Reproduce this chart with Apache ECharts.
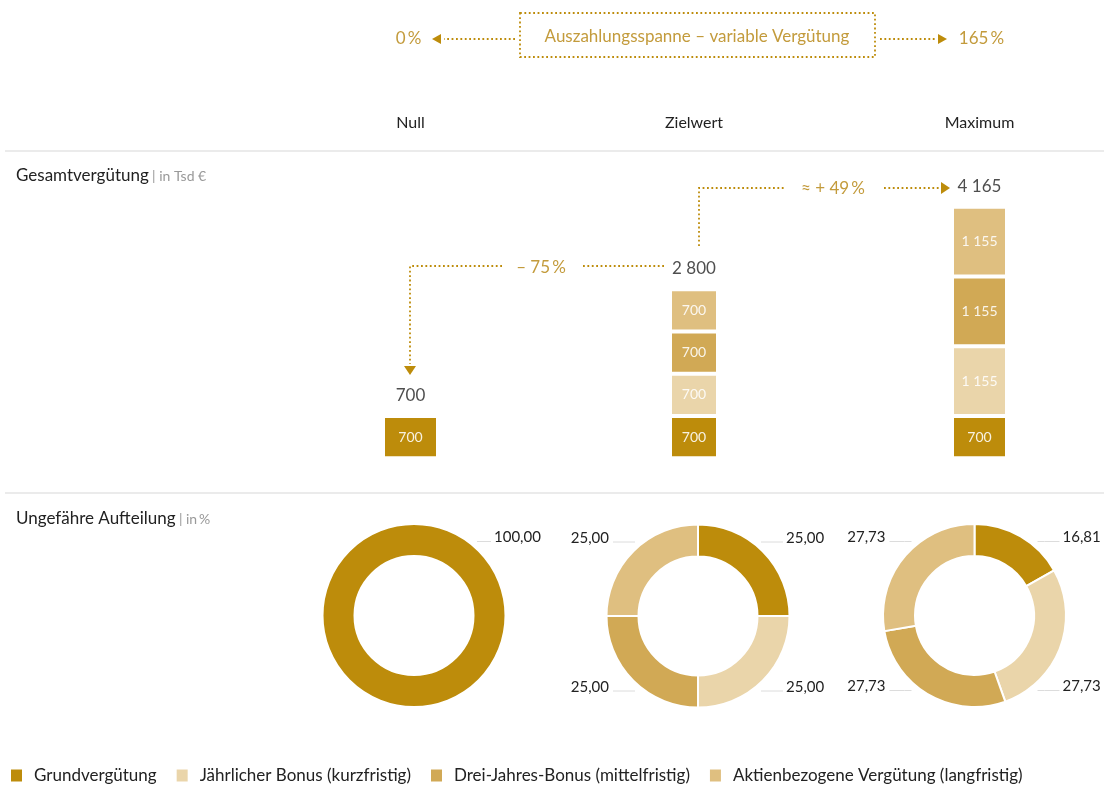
<!DOCTYPE html>
<html lang="de">
<head>
<meta charset="utf-8">
<title>Vergütung – Auszahlungsspanne</title>
<script src="https://cdn.jsdelivr.net/npm/echarts@6/dist/echarts.min.js"></script>
<style>
  html, body { margin: 0; padding: 0; background: #fff; }
  #chart { width: 1104px; height: 785px; }
</style>
</head>
<body>
<div id="chart"></div>
<script>
// ---- data ----
const columns = ['Null', 'Zielwert', 'Maximum'];
const components = [
  'Grundvergütung',
  'Jährlicher Bonus (kurzfristig)',
  'Drei-Jahres-Bonus (mittelfristig)',
  'Aktienbezogene Vergütung (langfristig)'
];
// in Tsd €, one value per column
const grundverguetung = [700, 700, 700];
const jahresBonus = [0, 700, 1155];
const dreiJahresBonus = [0, 700, 1155];
const aktienVerguetung = [0, 700, 1155];
const totals = [700, 2800, 4165];
// approximate split in %, one list per column
const shareNull = [100.00];
const shareZiel = [25.00, 25.00, 25.00, 25.00];
const shareMax = [16.81, 27.73, 27.73, 27.73];
// texts
const payoutRange = ['0\u2009%', '165\u2009%'];
const payoutTitle = 'Auszahlungsspanne – variable Vergütung';
const changeDown = '– 75\u2009%';
const changeUp = '≈ + 49\u2009%';

// ---- styling ----
const FONT = 'Lato, "Liberation Sans", sans-serif';
const COLORS = ['#BD8C0B', '#EAD5AA', '#D1A955', '#DFBF80'];
const GOLD = '#BD8C0B';
const GOLD_TEXT = '#C39B3C';
const INK = '#222222';

const componentValues = [grundverguetung, jahresBonus, dreiJahresBonus, aktienVerguetung];
const shares = [shareNull, shareZiel, shareMax];

// column layout: bar centre x, bar width
const colCenters = [410.5, 694, 979.5];
const colWidths = [55, 48, 55];
const barTop = 206.7, barHeight = 251.6;
const pieCenters = [[414, 615.5], [698, 616], [974.5, 615.5]];

function fmtTsd(v) {
  return String(v).replace(/\B(?=(\d{3})+(?!\d))/g, ' ');
}
function fmtPct(v) {
  return v.toFixed(2).replace('.', ',');
}

const grids = [], xAxes = [], yAxes = [], series = [];
const yMax = Math.max.apply(null, totals);

columns.forEach(function (col, c) {
  grids.push({
    left: colCenters[c] - colWidths[c] / 2,
    width: colWidths[c],
    top: barTop,
    height: barHeight
  });
  xAxes.push({
    type: 'category', gridIndex: c, data: [col], position: 'top',
    axisLine: { show: false }, axisTick: { show: false },
    axisLabel: { margin: 76, fontSize: 16, color: INK, fontFamily: FONT }
  });
  yAxes.push({
    type: 'value', gridIndex: c, min: 0, max: yMax, show: false,
    splitLine: { show: false }
  });
  components.forEach(function (name, k) {
    const v = componentValues[k][c];
    series.push({
      type: 'bar', name: name, xAxisIndex: c, yAxisIndex: c,
      stack: 'col' + c, barWidth: '100%',
      data: [v > 0 ? v : '-'],
      itemStyle: { color: COLORS[k], borderColor: '#fff', borderWidth: 2 },
      label: {
        show: true, position: 'inside', formatter: function (p) { return fmtTsd(p.value); },
        color: 'rgba(255,255,255,0.88)', fontSize: 14, fontFamily: FONT
      },
      emphasis: { disabled: true },
      silent: true
    });
  });
  series.push({
    type: 'scatter', xAxisIndex: c, yAxisIndex: c,
    data: [totals[c]], symbolSize: 0, silent: true,
    label: {
      show: true, position: 'top', distance: 12,
      formatter: function (p) { return fmtTsd(p.value); },
      color: INK, fontSize: 17, fontFamily: FONT
    }
  });
});

const CORNERS = ['tr', 'br', 'bl', 'tl'];
function pieLabelLayout(center, gap) {
  return function (p) {
    const corner = CORNERS[p.dataIndex];
    const top = corner[0] === 't';
    const right = corner[1] === 'r';
    const y = center[1] + (top ? -78 : 71);
    const ly = y + 4;
    if (right) {
      return {
        x: center[0] + gap, y: y, align: 'left', verticalAlign: 'middle',
        labelLinePoints: [[center[0] + 63, ly], [center[0] + 70, ly], [center[0] + gap - 3, ly]]
      };
    }
    return {
      x: center[0] - 89, y: y, align: 'right', verticalAlign: 'middle',
      labelLinePoints: [[center[0] - 63, ly], [center[0] - 70, ly], [center[0] - 85, ly]]
    };
  };
}

shares.forEach(function (list, c) {
  series.push({
    type: 'pie',
    center: pieCenters[c],
    radius: [59.5, 91.5],
    startAngle: 90, clockwise: true,
    avoidLabelOverlap: false,
    silent: true,
    itemStyle: { borderColor: '#fff', borderWidth: 2 },
    label: {
      show: true, position: 'outside', width: 60, overflow: 'none',
      formatter: function (p) { return fmtPct(p.value); },
      color: INK, fontSize: 15, fontFamily: FONT
    },
    labelLine: { show: true, lineStyle: { color: '#dcdcdc', width: 1 } },
    labelLayout: pieLabelLayout(pieCenters[c], list.length === 1 ? 80 : 88),
    emphasis: { disabled: true },
    data: list.map(function (v, k) {
      return { name: components[k], value: v, itemStyle: { color: COLORS[k] } };
    })
  });
});

// ---- annotations ----
const dotted = { stroke: GOLD, lineWidth: 1.8, lineDash: [1.8, 2.6], fill: null };
function line(points) {
  return { type: 'polyline', shape: { points: points }, style: dotted, silent: true };
}
function tri(points) {
  return { type: 'polygon', shape: { points: points }, style: { fill: GOLD }, silent: true };
}
function txt(x, y, text, size, color, align) {
  return {
    type: 'text', x: x, y: y, silent: true,
    style: { text: text, fontSize: size, fill: color, fontFamily: FONT,
      align: align || 'center', verticalAlign: 'middle' }
  };
}

const graphic = [
  // payout range header
  { type: 'rect', shape: { x: 520, y: 13, width: 355, height: 44 }, style: dotted, silent: true },
  txt(697, 37, payoutTitle, 17, GOLD_TEXT),
  txt(colCenters[0] - 2, 39, payoutRange[0], 17, GOLD_TEXT),
  txt(colCenters[2] + 2, 39, payoutRange[1], 17, GOLD_TEXT),
  line([[515, 39], [444, 39]]),
  tri([[441, 34], [441, 44], [432, 39]]),
  line([[880, 39], [937, 39]]),
  tri([[938, 34], [938, 44], [947, 39]]),

  // section separators
  { type: 'rect', shape: { x: 5, y: 150, width: 1099, height: 2 }, style: { fill: '#ebebeb' }, silent: true },
  { type: 'rect', shape: { x: 5, y: 492, width: 1099, height: 2 }, style: { fill: '#ebebeb' }, silent: true },

  // section titles
  {
    type: 'text', x: 16, y: 176, silent: true,
    style: {
      text: '{a|Gesamtvergütung} {b|| in Tsd €}', verticalAlign: 'middle',
      rich: {
        a: { fontSize: 17, fill: INK, fontFamily: FONT },
        b: { fontSize: 14, fill: '#999', fontFamily: FONT }
      }
    }
  },
  {
    type: 'text', x: 16, y: 519, silent: true,
    style: {
      text: '{a|Ungefähre Aufteilung} {b|| in\u2009%}', verticalAlign: 'middle',
      rich: {
        a: { fontSize: 17, fill: INK, fontFamily: FONT },
        b: { fontSize: 14, fill: '#999', fontFamily: FONT }
      }
    }
  },

  // Zielwert -> Null
  line([[664, 266], [581, 266]]),
  txt(541, 268, changeDown, 17, GOLD_TEXT),
  line([[502, 266], [410, 266], [410, 364]]),
  tri([[404, 366], [416, 366], [410, 375]]),

  // Zielwert -> Maximum
  line([[699, 246], [699, 188], [785, 188]]),
  txt(833, 189, changeUp, 17, GOLD_TEXT),
  line([[884, 188], [940, 188]]),
  tri([[941, 182], [941, 194], [950, 188]])
];

const chart = echarts.init(document.getElementById('chart'), null, { renderer: 'canvas' });
chart.setOption({
  animation: false,
  backgroundColor: '#ffffff',
  textStyle: { fontFamily: FONT },
  grid: grids,
  xAxis: xAxes,
  yAxis: yAxes,
  legend: {
    data: components.map(function (n, k) { return { name: n, itemStyle: { color: COLORS[k] } }; }),
    left: 9, top: 767, padding: 0,
    icon: 'rect', itemWidth: 13, itemHeight: 14, itemGap: 18,
    selectedMode: false,
    textStyle: { fontSize: 17, color: INK, fontFamily: FONT, padding: [0, 0, 0, 6] }
  },
  series: series,
  graphic: graphic
});
</script>
</body>
</html>
